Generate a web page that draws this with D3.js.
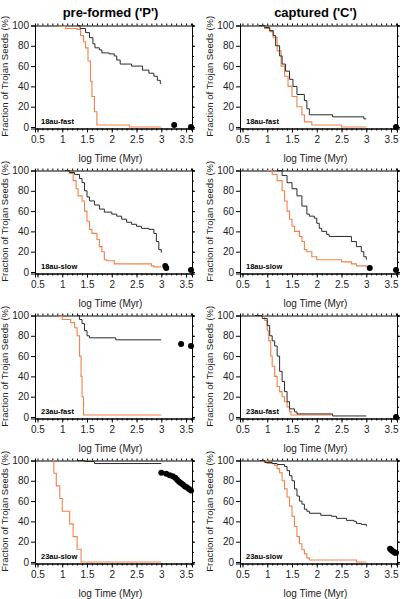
<!DOCTYPE html>
<html>
<head>
<meta charset="utf-8">
<script src="https://cdn.jsdelivr.net/npm/d3@7"></script>
<style>
  body { margin: 0; background: #fff; }
  svg { font-family: "Liberation Sans", Arial, sans-serif; }
</style>
</head>
<body>
<svg width="406" height="599"></svg>
<script>
// column titles and panel labels
var colTitles = ["pre-formed ('P')", "captured ('C')"];
var rowLabels = ["18au-fast", "18au-slow", "23au-fast", "23au-slow"];
var xTicks = [0.5, 1, 1.5, 2, 2.5, 3, 3.5];
var yTicks = [0, 20, 40, 60, 80, 100];

// [log Time (Myr), fraction (%)] — survival curves (black / orange) and end points (dots)
var p18fastBlack = [[1.3,100],[1.36,97],[1.47,93],[1.55,88],[1.62,82],[1.66,78],[1.75,76],[1.8,73],[1.95,72],[2.05,70],[2.1,66],[2.17,62],[2.4,60],[2.62,56],[2.75,53],[2.85,50],[2.92,46],[2.98,43],[3.0,43]];
var p18fastOrange = [[0.93,99],[1.07,97],[1.3,96],[1.37,90],[1.43,84],[1.47,78],[1.52,65],[1.57,45],[1.6,30],[1.65,15],[1.7,2],[2.36,0],[3.0,0]];
var p18fastDots = [[3.26,2],[3.6,0]];

var c18fastBlack = [[0.83,100],[0.95,98],[1.05,95],[1.12,90],[1.17,80],[1.25,70],[1.3,62],[1.37,55],[1.45,47],[1.52,40],[1.6,32],[1.75,26],[1.8,18],[1.85,12],[2.32,10],[2.95,8],[3.0,8]];
var c18fastOrange = [[0.83,100],[0.95,97],[1.05,94],[1.12,88],[1.2,75],[1.28,60],[1.35,50],[1.42,40],[1.5,30],[1.6,20],[1.7,12],[1.75,5],[1.9,2],[2.5,0],[3.0,0]];
var c18fastDots = [[3.6,0]];

var p18slowBlack = [[1.05,100],[1.15,98],[1.25,96],[1.35,92],[1.4,88],[1.45,80],[1.5,74],[1.55,70],[1.65,66],[1.75,62],[1.85,59],[2.0,57],[2.1,55],[2.2,52],[2.3,49],[2.4,47],[2.5,45],[2.6,43],[2.75,42],[2.85,38],[2.9,30],[2.95,22],[3.0,19]];
var p18slowOrange = [[1.05,100],[1.15,97],[1.22,90],[1.28,82],[1.32,75],[1.4,70],[1.45,60],[1.5,50],[1.55,42],[1.6,38],[1.7,32],[1.75,25],[1.8,20],[1.85,12],[1.9,11],[2.05,8],[2.8,6],[2.85,5],[3.0,5]];
var p18slowDots = [[3.08,6],[3.1,4],[3.6,2]];

var c18slowBlack = [[1.2,100],[1.3,95],[1.4,88],[1.5,82],[1.6,75],[1.7,65],[1.8,57],[1.85,55],[1.95,53],[2.0,48],[2.05,43],[2.1,40],[2.2,37],[2.25,35],[2.65,35],[2.7,30],[2.8,25],[2.9,20],[2.95,15],[3.0,12]];
var c18slowOrange = [[1.0,100],[1.1,96],[1.2,90],[1.3,80],[1.35,70],[1.4,60],[1.45,52],[1.5,45],[1.55,40],[1.65,35],[1.7,30],[1.75,22],[1.8,20],[1.9,15],[2.0,12],[2.5,10],[2.7,8],[2.8,6],[3.0,5]];
var c18slowDots = [[3.07,4],[3.6,2]];

var p23fastBlack = [[1.3,100],[1.35,96],[1.4,92],[1.45,85],[1.5,80],[1.55,78],[2.08,76],[3.0,76]];
var p23fastOrange = [[0.92,99],[1.0,96],[1.17,93],[1.25,88],[1.3,80],[1.35,60],[1.38,40],[1.4,20],[1.43,2],[3.0,2]];
var p23fastDots = [[3.4,72],[3.6,70]];

var c23fastBlack = [[0.75,100],[0.9,97],[1.0,90],[1.05,80],[1.1,75],[1.15,70],[1.2,60],[1.25,45],[1.3,35],[1.35,25],[1.4,15],[1.45,8],[1.55,5],[1.6,3],[2.32,1],[3.0,1]];
var c23fastOrange = [[0.85,100],[0.95,95],[1.0,85],[1.03,75],[1.07,60],[1.1,50],[1.15,40],[1.2,30],[1.25,25],[1.3,20],[1.35,15],[1.4,10],[1.45,5],[1.48,2],[2.3,2]];
var c23fastDots = [[3.6,0]];

var p23slowBlack = [[1.3,100],[1.45,99],[1.65,97],[3.0,97]];
var p23slowOrange = [[0.8,100],[0.83,87.5],[0.88,75],[0.95,62.5],[1.0,50],[1.15,37.5],[1.22,25],[1.3,12.5],[1.38,0],[3.0,0]];
var p23slowDots = [[3.0,88],[3.1,87],[3.17,85.5],[3.23,84.5],[3.28,83],[3.32,81],[3.36,79],[3.4,77.5],[3.44,76],[3.48,74.5],[3.52,73.5],[3.56,72],[3.6,70.5]];

var c23slowBlack = [[0.85,100],[0.95,98],[1.1,97],[1.2,96],[1.35,94],[1.4,90],[1.45,85],[1.5,80],[1.55,72],[1.6,65],[1.65,60],[1.7,57],[1.75,52],[1.8,50],[1.85,48],[2.08,46],[2.3,45],[2.4,43],[2.6,41],[2.75,40],[2.8,38],[2.9,37],[3.0,35]];
var c23slowOrange = [[0.85,100],[1.0,97],[1.15,95],[1.2,92],[1.25,88],[1.3,80],[1.35,72],[1.4,64],[1.45,55],[1.5,45],[1.55,35],[1.6,25],[1.65,18],[1.7,12],[1.75,8],[1.8,4],[1.85,2],[2.8,0],[3.0,0]];
var c23slowDots = [[3.48,13],[3.5,12],[3.52,11],[3.55,10],[3.58,9],[3.6,9]];

var panels = [
  [p18fastBlack, p18fastOrange, p18fastDots], [c18fastBlack, c18fastOrange, c18fastDots],
  [p18slowBlack, p18slowOrange, p18slowDots], [c18slowBlack, c18slowOrange, c18slowDots],
  [p23fastBlack, p23fastOrange, p23fastDots], [c23fastBlack, c23fastOrange, c23fastDots],
  [p23slowBlack, p23slowOrange, p23slowDots], [c23slowBlack, c23slowOrange, c23slowDots]
];

var svg = d3.select("svg");
var colX = [35, 240], rowY = [25.5, 170.5, 315.5, 460.5];
var W = 157, H = 103;
var ORANGE = "#f2824a", BLACK = "#2a2a2a";

var x = d3.scaleLinear().domain([0.45, 3.62]).range([0, W]);
var y = d3.scaleLinear().domain([-1.5, 100]).range([H, 0]);
var line = d3.line().x(function (d) { return x(d[0]); }).y(function (d) { return y(d[1]); })
  .curve(d3.curveStepAfter);

colTitles.forEach(function (t, c) {
  svg.append("text").attr("x", colX[c] + W / 2 - 3).attr("y", 17)
    .attr("text-anchor", "middle").attr("font-weight", "bold").attr("font-size", 13)
    .text(t);
});

panels.forEach(function (p, i) {
  var c = i % 2, r = Math.floor(i / 2);
  var g = svg.append("g").attr("transform", "translate(" + colX[c] + "," + rowY[r] + ")");

  // minor ticks
  var minorX = d3.range(5, 37).map(function (v) { return v / 10; });
  g.append("g").attr("transform", "translate(0," + H + ")")
    .call(d3.axisBottom(x).tickValues(minorX).tickSize(2).tickFormat(""));
  g.append("g").call(d3.axisTop(x).tickValues(minorX).tickSize(2).tickFormat(""));
  g.append("g").attr("transform", "translate(" + W + ",0)")
    .call(d3.axisRight(y).tickValues(d3.range(0, 101, 10)).tickSize(2).tickFormat(""));

  // major axes
  g.append("g").attr("transform", "translate(0," + H + ")")
    .call(d3.axisBottom(x).tickValues(xTicks).tickSize(4).tickPadding(3).tickFormat(d3.format("")))
    .attr("font-size", 10);
  g.append("g").call(d3.axisLeft(y).tickValues(yTicks).tickSize(4).tickPadding(2))
    .attr("font-size", 10);
  g.append("g").attr("transform", "translate(" + W + ",0)")
    .call(d3.axisRight(y).tickValues(yTicks).tickSize(3).tickFormat(""));

  g.selectAll(".domain").attr("stroke", "#000");
  g.selectAll(".tick text").attr("fill", "#222");

  g.append("path").datum(p[1]).attr("d", line)
    .attr("fill", "none").attr("stroke", ORANGE).attr("stroke-width", 1.1);
  g.append("path").datum(p[0]).attr("d", line)
    .attr("fill", "none").attr("stroke", BLACK).attr("stroke-width", 1);
  g.selectAll("circle").data(p[2]).enter().append("circle")
    .attr("cx", function (d) { return x(d[0]); })
    .attr("cy", function (d) { return y(d[1]); })
    .attr("r", 3).attr("fill", "#000");

  g.append("text").attr("x", 6).attr("y", y(0) - 2.5)
    .attr("font-size", 7.5).attr("font-weight", "bold").text(rowLabels[r]);

  g.append("text").attr("x", W / 2 - 3).attr("y", H + 33)
    .attr("text-anchor", "middle").attr("font-size", 10).attr("fill", "#222")
    .text("log Time (Myr)");
  g.append("text").attr("transform", "translate(" + (-27.5) + "," + (y(50)) + ") rotate(-90)")
    .attr("text-anchor", "middle").attr("font-size", 9.5).attr("fill", "#222")
    .text("Fraction of Trojan Seeds (%)");
});
</script>
</body>
</html>
